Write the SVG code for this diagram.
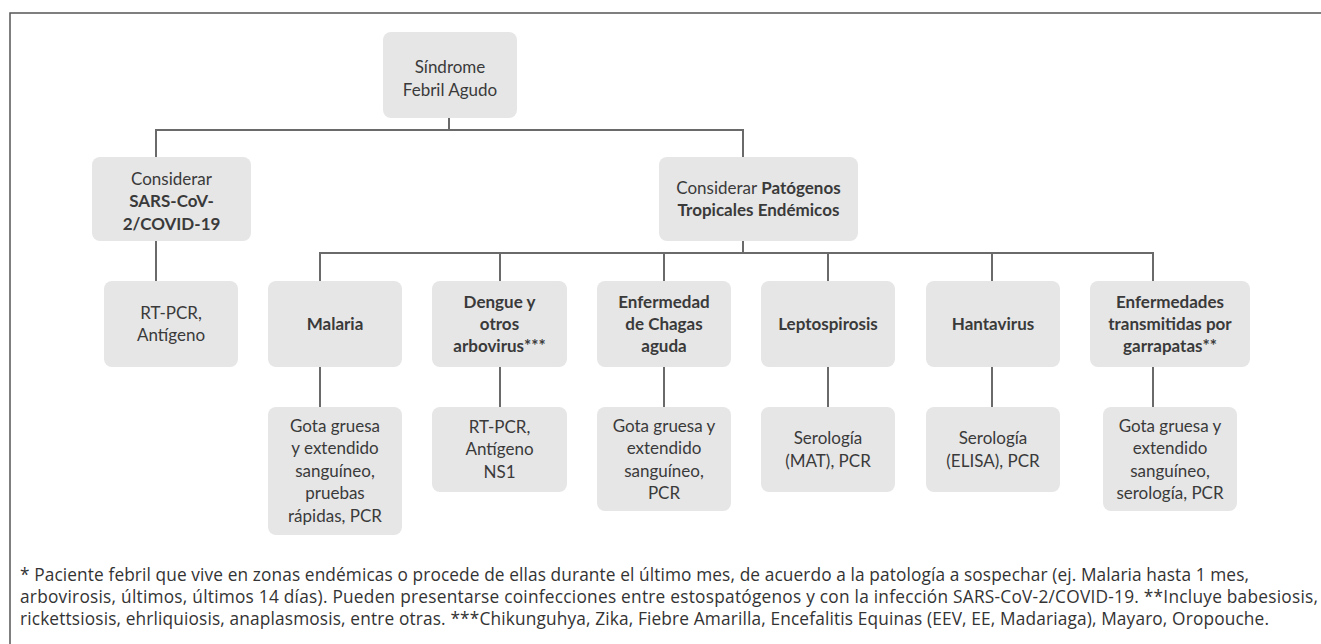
<svg xmlns="http://www.w3.org/2000/svg" width="1321" height="644" viewBox="0 0 1321 644">
<style>
.box{fill:#e6e6e7;}
.t{font-family:Lato,"Liberation Sans",sans-serif;font-size:17px;fill:#3a3a3a;text-anchor:middle;}
.b{font-weight:bold;}
.c{fill:none;stroke:#6a6a6a;stroke-width:2;}
.fn{font-family:"Open Sans","Noto Sans",sans-serif;font-size:17.3px;fill:#333;}
</style>
<rect x="0" y="0" width="1321" height="644" fill="#fff"/>
<rect id="frame" x="10" y="13" width="1330" height="660" fill="none" stroke="#555" stroke-width="1.5"/>
<g id="connectors">
<path class="c" d="M449,118V130"/>
<path class="c" d="M156,157V130H743V157"/>
<path class="c" d="M156,241V281"/>
<path class="c" d="M743,241V253"/>
<path class="c" d="M320,281V253H1153V281"/>
<path class="c" d="M500,253V281M664,253V281M828,253V281M992,253V281"/>
<path class="c" d="M320,367V407M500,367V407M664,367V407M828,367V407M992,367V407M1153,367V407"/>
</g>
<g id="root"><rect class="box" x="383" y="32" width="134" height="86" rx="8"/>
<text class="t" x="450" y="73">Síndrome</text><text class="t" x="450" y="96">Febril Agudo</text></g>
<g id="sars"><rect class="box" x="92" y="157" width="159" height="84" rx="8"/>
<text class="t" x="171.5" y="185">Considerar</text><text class="t b" x="171.5" y="207">SARS-CoV-</text><text class="t b" x="171.5" y="230">2/COVID-19</text></g>
<g id="patogenos"><rect class="box" x="659" y="157" width="199" height="84" rx="8"/>
<text class="t" x="758.5" y="194">Considerar <tspan class="b">Patógenos</tspan></text><text class="t b" x="758.5" y="216">Tropicales Endémicos</text></g>
<g id="sars-test"><rect class="box" x="104" y="281" width="134" height="86" rx="8"/>
<text class="t" x="171" y="319">RT-PCR,</text><text class="t" x="171" y="341">Antígeno</text></g>
<g id="malaria"><rect class="box" x="268" y="281" width="134" height="86" rx="8"/>
<text class="t b" x="335" y="330">Malaria</text></g>
<g id="dengue"><rect class="box" x="432" y="281" width="135" height="86" rx="8"/>
<text class="t b" x="499.5" y="308">Dengue y</text><text class="t b" x="499.5" y="330">otros</text><text class="t b" x="499.5" y="352">arbovirus***</text></g>
<g id="chagas"><rect class="box" x="597" y="281" width="134" height="86" rx="8"/>
<text class="t b" x="664" y="308">Enfermedad</text><text class="t b" x="664" y="330">de Chagas</text><text class="t b" x="664" y="352">aguda</text></g>
<g id="lepto"><rect class="box" x="761" y="281" width="134" height="86" rx="8"/>
<text class="t b" x="828" y="330">Leptospirosis</text></g>
<g id="hanta"><rect class="box" x="926" y="281" width="134" height="86" rx="8"/>
<text class="t b" x="993" y="330">Hantavirus</text></g>
<g id="ticks"><rect class="box" x="1090" y="281" width="160" height="86" rx="8"/>
<text class="t b" x="1170" y="308">Enfermedades</text><text class="t b" x="1170" y="330">transmitidas por</text><text class="t b" x="1170" y="352">garrapatas**</text></g>
<g id="malaria-test"><rect class="box" x="268" y="407" width="134" height="128" rx="8"/>
<text class="t" x="335" y="432">Gota gruesa</text><text class="t" x="335" y="454">y extendido</text><text class="t" x="335" y="477">sanguíneo,</text><text class="t" x="335" y="499">pruebas</text><text class="t" x="335" y="522">rápidas, PCR</text></g>
<g id="dengue-test"><rect class="box" x="432" y="407" width="135" height="85" rx="8"/>
<text class="t" x="499.5" y="433">RT-PCR,</text><text class="t" x="499.5" y="455">Antígeno</text><text class="t" x="499.5" y="478">NS1</text></g>
<g id="chagas-test"><rect class="box" x="597" y="407" width="134" height="104" rx="8"/>
<text class="t" x="664" y="432">Gota gruesa y</text><text class="t" x="664" y="454">extendido</text><text class="t" x="664" y="477">sanguíneo,</text><text class="t" x="664" y="499">PCR</text></g>
<g id="lepto-test"><rect class="box" x="761" y="407" width="134" height="85" rx="8"/>
<text class="t" x="828" y="444">Serología</text><text class="t" x="828" y="467">(MAT), PCR</text></g>
<g id="hanta-test"><rect class="box" x="926" y="407" width="134" height="85" rx="8"/>
<text class="t" x="993" y="444">Serología</text><text class="t" x="993" y="467">(ELISA), PCR</text></g>
<g id="ticks-test"><rect class="box" x="1103" y="407" width="134" height="104" rx="8"/>
<text class="t" x="1170" y="432">Gota gruesa y</text><text class="t" x="1170" y="454">extendido</text><text class="t" x="1170" y="477">sanguíneo,</text><text class="t" x="1170" y="499">serología, PCR</text></g>
<g id="footnote">
<text class="fn" x="20" y="581" textLength="1229" lengthAdjust="spacing">* Paciente febril que vive en zonas endémicas o procede de ellas durante el último mes, de acuerdo a la patología a sospechar (ej. Malaria hasta 1 mes,</text>
<text class="fn" x="20" y="603" textLength="1298" lengthAdjust="spacing">arbovirosis, últimos, últimos 14 días). Pueden presentarse coinfecciones entre estospatógenos y con la infección SARS-CoV-2/COVID-19. **Incluye babesiosis,</text>
<text class="fn" x="20" y="625" textLength="1249" lengthAdjust="spacing">rickettsiosis, ehrliquiosis, anaplasmosis, entre otras. ***Chikunguhya, Zika, Fiebre Amarilla, Encefalitis Equinas (EEV, EE, Madariaga), Mayaro, Oropouche.</text>
</g>
</svg>
